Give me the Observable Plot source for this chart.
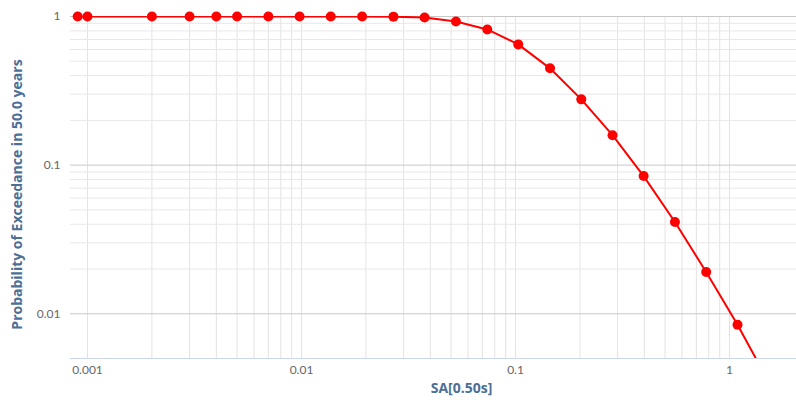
<!DOCTYPE html>
<html>
<head>
<meta charset="utf-8">
<script src="https://cdn.jsdelivr.net/npm/d3@7"></script>
<script src="https://cdn.jsdelivr.net/npm/@observablehq/plot@0.6"></script>
<style>
  html, body { margin: 0; padding: 0; background: #fff; }
  #chart { width: 796px; height: 403px; }
</style>
</head>
<body>
<div id="chart"></div>
<script>
// Spectral acceleration levels (g) and probabilities of exceedance
const sa  = [0.0009, 0.001, 0.002, 0.003, 0.004, 0.005, 0.007, 0.0098, 0.0137, 0.0192, 0.0269, 0.0376, 0.0527, 0.0738, 0.103, 0.145, 0.203, 0.284, 0.397, 0.556, 0.778, 1.09, 1.52];
const poe = [1, 1, 1, 1, 1, 1, 1, 1, 1, 0.999, 0.998, 0.985, 0.925, 0.818, 0.649, 0.448, 0.277, 0.159, 0.0844, 0.0414, 0.0191, 0.00844, 0.0035];

const xTicks = [0.001, 0.01, 0.1, 1];
const yTicks = [0.01, 0.1, 1];
const xMinor = [0.001,0.002,0.003,0.004,0.005,0.006,0.007,0.008,0.009,
                0.01,0.02,0.03,0.04,0.05,0.06,0.07,0.08,0.09,
                0.1,0.2,0.3,0.4,0.5,0.6,0.7,0.8,0.9,1];
const yMinor = [0.02,0.03,0.04,0.05,0.06,0.07,0.08,0.09,
                0.2,0.3,0.4,0.5,0.6,0.7,0.8,0.9];
const xTitle = "SA[0.50s]";
const yTitle = "Probability of Exceedance in 50.0 years";

const xDomain = [0.000833, 2.056];
const yDomain = [0.005, 1];

const data = sa.map((x, i) => ({x, y: poe[i]}));
const visible = data.filter(d => d.y >= yDomain[0] && d.x <= xDomain[1]);

const chart = Plot.plot({
  width: 796,
  height: 403,
  marginLeft: 70,
  marginRight: 0,
  marginTop: 16,
  marginBottom: 45,
  style: {fontFamily: "Lato, 'Open Sans', sans-serif", fontSize: "12px", color: "#666", background: "#fff"},
  x: {type: "log", domain: xDomain, label: null},
  y: {type: "log", domain: yDomain, label: null},
  marks: [
    Plot.ruleX(xMinor, {stroke: "#e3e3e3", strokeWidth: 1}),
    Plot.ruleY(yMinor, {stroke: "#e8e8e8", strokeWidth: 1}),
    Plot.ruleY(yTicks, {stroke: "#c8c8c8", strokeWidth: 1}),
    Plot.ruleY([yDomain[0]], {stroke: "#ccd6eb", strokeWidth: 1}),
    Plot.axisX(xTicks, {tickSize: 0, tickPadding: 7, tickFormat: d => String(d), fill: "#666", fontSize: 12}),
    Plot.axisY(yTicks, {tickSize: 0, tickPadding: 10, tickFormat: d => String(d), fill: "#666", fontSize: 12}),
    Plot.line(data, {x: "x", y: "y", stroke: "#ff0000", strokeWidth: 2, clip: true}),
    Plot.dot(visible, {x: "x", y: "y", r: 5, fill: "#ff0000", stroke: "none"}),
    Plot.text([xTitle], {frameAnchor: "bottom", textAnchor: "middle", dx: 28, dy: 34, text: d => d, fill: "#4d6f96", fontWeight: "bold", fontSize: 14, fontFamily: "'Open Sans', sans-serif"}),
    Plot.text([yTitle], {frameAnchor: "left", textAnchor: "middle", dx: -53, dy: 7, rotate: -90, text: d => d, fill: "#4d6f96", fontWeight: "bold", fontSize: 14, fontFamily: "'Open Sans', sans-serif"})
  ]
});
document.getElementById("chart").appendChild(chart);
</script>
</body>
</html>
